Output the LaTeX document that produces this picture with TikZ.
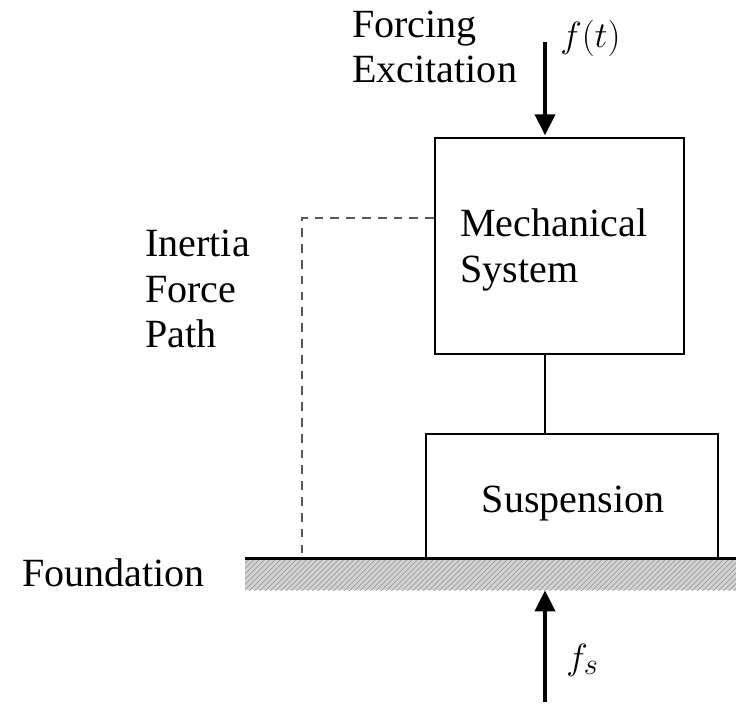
\documentclass[tikz,border=0pt]{standalone}
\usepackage{fontspec}
\setmainfont{Liberation Serif}
\usetikzlibrary{arrows.meta,patterns}
\tikzset{
  block/.style = {draw, line width = 1.1pt, inner sep = 0pt},
  label/.style = {align = left, inner sep = 0pt, anchor = west,
    font = \fontsize{22.8}{26}\selectfont},
  force/.style = {line width = 2.2pt, -{Triangle[length = 0.42cm, width = 0.4cm]}},
  inertia/.style = {dash pattern = on 5pt off 4pt, line width = 0.9pt, gray!70!black}
}
\begin{document}
\begin{tikzpicture}[x = 0.02cm, y = -0.02cm]
\useasboundingbox (0,0) rectangle (736,703);
% blocks
\node [block, minimum width = 4.98cm, minimum height = 4.32cm] (mech) at (559.5,246) {};
\node [block, minimum width = 5.84cm, minimum height = 2.48cm] (susp) at (572,496) {};
\node [label] (mechtext) at (460,250) {Mechanical\\System};
\node [label, anchor = center] (susptext) at (573,503) {Suspension};
% foundation
\node [pattern = north east lines, pattern color = gray!75, fill = gray!35, inner sep = 0pt,
  minimum width = 9.82cm, minimum height = 0.62cm] (ground) at (490.5,574.5) {};
\node [pattern = north east lines, pattern color = gray!75, inner sep = 0pt,
  minimum width = 9.82cm, minimum height = 0.62cm] at (490.5,574.5) {};
\draw [line width = 1.6pt] (ground.north west) -- (ground.north east);
\node [label] (found) at (22,573) {Foundation};
% connector
\coordinate (axis) at (545,0);
\draw [line width = 1.1pt] (mech.south -| axis) -- (susp.north -| axis);
% inertia force path
\coordinate (dashtop) at (302,218);
\draw [inertia] (mech.west |- dashtop) -- (dashtop) -- (dashtop |- ground.north);
\node [label] (path) at (145,289) {Inertia\\Force\\Path};
% forces
\coordinate (ftop) at (545,42);
\coordinate (fbot) at (545,702);
\draw [force] (ftop) -- ([yshift = 1pt]mech.north -| axis);
\draw [force] (fbot) -- (ground.south -| axis);
\node [label] (forcing) at (352,47) {Forcing\\Excitation};
\node [label] (ft) at (560,38) {$f(t)$};
\node [label] (fs) at (566,660) {$f_s$};
\end{tikzpicture}
\end{document}
